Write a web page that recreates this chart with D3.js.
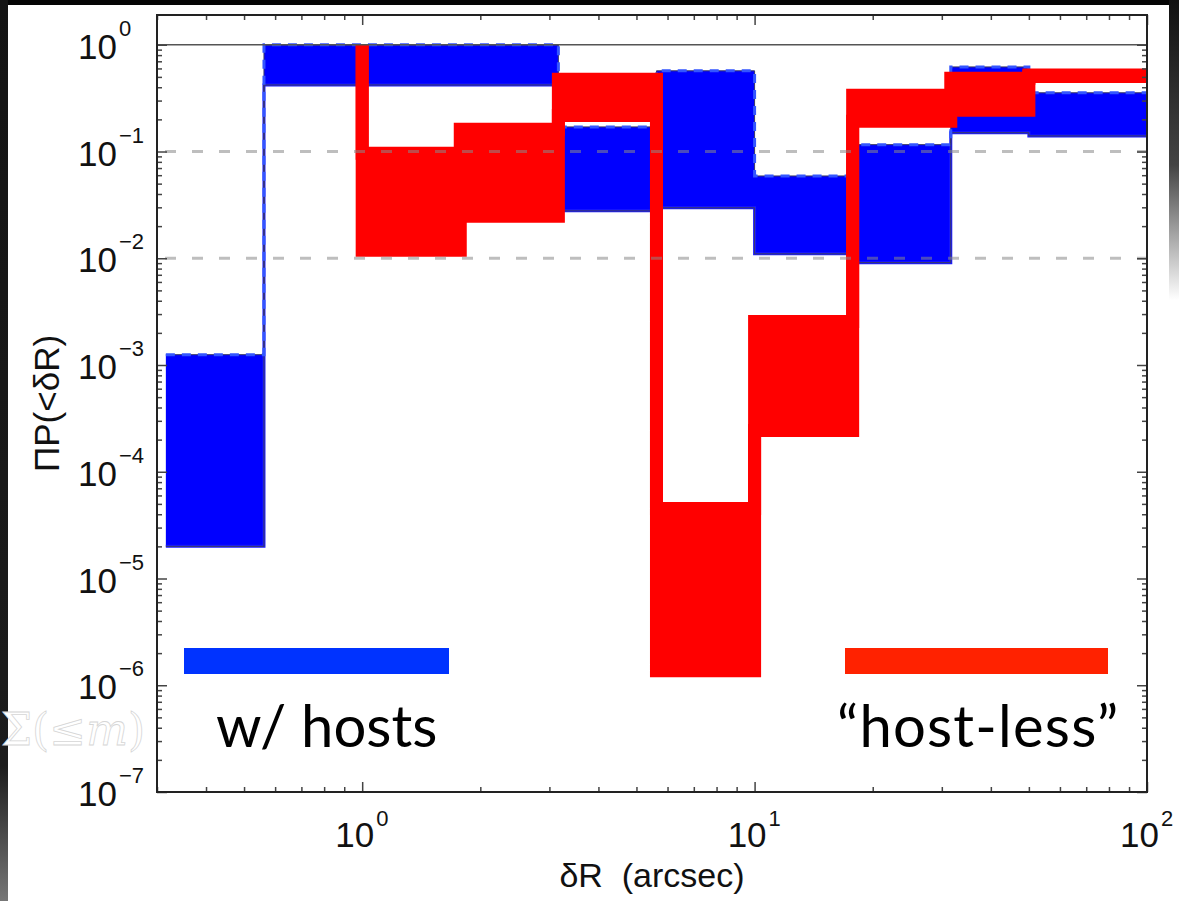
<!DOCTYPE html>
<html>
<head>
<meta charset="utf-8">
<script src="https://d3js.org/d3.v7.min.js"></script>
<style>
  body { margin: 0; background: #fff; }
  svg { display: block; }
</style>
</head>
<body>
<svg id="chart" width="1179" height="901"></svg>
<script>
// bin edges in arcsec, one more edge than values
const blueEdges = [0.316, 0.562, 3.162, 5.623, 10, 17.78, 31.62, 50, 100];
const blueHi = [1.25e-3, 1.0, 0.17, 0.57, 0.059, 0.116, 0.62, 0.355];
const blueLo = [2.0e-5, 0.42, 0.0278, 0.0297, 0.011, 0.0091, 0.15, 0.14];

const redEdges = [1.0, 1.778, 3.162, 5.623, 10, 17.78, 31.62, 50, 100];
const redHi = [0.0962, 0.1615, 0.475, 4.53e-5, 2.56e-3, 0.336, 0.485, 0.52];
const redLo = [0.01186, 0.0247, 0.218, 1.37e-6, 2.44e-4, 0.192, 0.243, 0.505];
const redStart = 1; // product starts at 1 before the first red bin

const refSolid = [1];
const refDashed = [0.1, 0.01];
const xMajor = [1, 10, 100];
const yMajorExp = [0, -1, -2, -3, -4, -5, -6, -7];

const svg = d3.select("#chart");
const W = 1179, H = 901;
const L = 157, R = 1147, T = 15, B = 792;

const x = d3.scaleLog().domain([0.3, 100]).range([L, R]);
const y = d3.scaleLog().domain([1e-7, 1.9]).range([B, T]);

// slide background bits round the figure
const defs = svg.append("defs");
const gl = defs.append("linearGradient").attr("id", "leftGrad").attr("x1", 0).attr("y1", 0).attr("x2", 0).attr("y2", 1);
gl.append("stop").attr("offset", "0%").attr("stop-color", "#141414");
gl.append("stop").attr("offset", "85%").attr("stop-color", "#1c1c1c");
gl.append("stop").attr("offset", "100%").attr("stop-color", "#777");
const gr = defs.append("linearGradient").attr("id", "rightGrad").attr("x1", 0).attr("y1", 0).attr("x2", 0).attr("y2", 1);
gr.append("stop").attr("offset", "0%").attr("stop-color", "#111");
gr.append("stop").attr("offset", "55%").attr("stop-color", "#444");
gr.append("stop").attr("offset", "100%").attr("stop-color", "#fff");
defs.append("clipPath").attr("id", "plotClip")
  .append("rect").attr("x", L).attr("y", T).attr("width", R - L).attr("height", B - T);

svg.append("rect").attr("width", W).attr("height", 5).attr("fill", "#050505");
svg.append("rect").attr("width", 8).attr("height", H).attr("fill", "url(#leftGrad)");
svg.append("rect").attr("x", 1169).attr("width", 10).attr("height", 300).attr("fill", "url(#rightGrad)");

// step points
function steps(edges, hi, lo) {
  return edges.map((e, i) => {
    const j = Math.min(i, hi.length - 1);
    return { x: e, hi: hi[j], lo: lo[j] };
  });
}
const bluePts = steps(blueEdges, blueHi, blueLo);
const redPts = [{ x: redEdges[0], hi: redStart, lo: redStart }].concat(steps(redEdges, redHi, redLo));

const area = d3.area()
  .x(d => x(d.x)).y0(d => y(d.lo)).y1(d => y(d.hi))
  .curve(d3.curveStepAfter);
const upper = d3.line().x(d => x(d.x)).y(d => y(d.hi)).curve(d3.curveStepAfter);
const lower = d3.line().x(d => x(d.x)).y(d => y(d.lo)).curve(d3.curveStepAfter);

const plot = svg.append("g").attr("clip-path", "url(#plotClip)");

// blue: w/ hosts
plot.append("path").attr("d", area(bluePts)).attr("fill", "#0000ff");
plot.append("path").attr("d", lower(bluePts))
  .attr("fill", "none").attr("stroke", "#1a1aff").attr("stroke-width", 3);
plot.append("path").attr("d", lower(bluePts))
  .attr("fill", "none").attr("stroke", "#3a3a66").attr("stroke-width", 1);
plot.append("path").attr("d", upper(bluePts))
  .attr("fill", "none").attr("stroke", "#3a3a66").attr("stroke-width", 1);
plot.append("path").attr("d", upper(bluePts))
  .attr("fill", "none").attr("stroke", "#3355ff").attr("stroke-width", 3)
  .attr("stroke-dasharray", "9,7");

// red: host-less
plot.append("path").attr("d", area(redPts)).attr("fill", "#ff0000");
[upper, lower].forEach(fn => {
  plot.append("path").attr("d", fn(redPts))
    .attr("fill", "none").attr("stroke", "#ff0000").attr("stroke-width", 13)
    .attr("stroke-linejoin", "miter").attr("stroke-linecap", "butt");
});

// reference levels
plot.selectAll(".refSolid").data(refSolid).join("line")
  .attr("x1", L).attr("x2", R).attr("y1", d => y(d)).attr("y2", d => y(d))
  .attr("stroke", "#555").attr("stroke-width", 1.6);
plot.selectAll(".refDash").data(refDashed).join("line")
  .attr("x1", L).attr("x2", R).attr("y1", d => y(d)).attr("y2", d => y(d))
  .attr("stroke", "#888").attr("stroke-opacity", 0.55).attr("stroke-width", 3.2)
  .attr("stroke-dasharray", "11,16").attr("stroke-dashoffset", -8);

// ticks, all pointing inward
const isMajor = v => Math.abs(Math.log10(v) - Math.round(Math.log10(v))) < 1e-9;
const xMinor = x.ticks().filter(v => !isMajor(v));
const yMinor = y.ticks().filter(v => !isMajor(v));
const yMajor = yMajorExp.map(k => Math.pow(10, k));

function tickAxis(axis, tx, ty) {
  svg.append("g").attr("transform", `translate(${tx},${ty})`)
    .call(axis.tickFormat(""))
    .call(g => g.select(".domain").remove())
    .call(g => g.selectAll("line").attr("stroke", "#444").attr("stroke-width", 1.5));
}
tickAxis(d3.axisBottom(x).tickValues(xMinor).tickSize(-5), 0, B);
tickAxis(d3.axisBottom(x).tickValues(xMajor).tickSize(-10), 0, B);
tickAxis(d3.axisTop(x).tickValues(xMinor).tickSize(-5), 0, T);
tickAxis(d3.axisTop(x).tickValues(xMajor).tickSize(-10), 0, T);
tickAxis(d3.axisLeft(y).tickValues(yMinor).tickSize(-5), L, 0);
tickAxis(d3.axisLeft(y).tickValues(yMajor).tickSize(-10), L, 0);
tickAxis(d3.axisRight(y).tickValues(yMinor).tickSize(-5), R, 0);
tickAxis(d3.axisRight(y).tickValues(yMajor).tickSize(-10), R, 0);

svg.append("rect").attr("x", L).attr("y", T).attr("width", R - L).attr("height", B - T)
  .attr("fill", "none").attr("stroke", "#222").attr("stroke-width", 2);

// tick labels 10^k
const tickFont = "'Liberation Sans', Arial, Helvetica, sans-serif";
const yl = svg.append("g").attr("font-family", tickFont).attr("fill", "#111");
yl.selectAll(".base").data(yMajorExp).join("text")
  .attr("x", 117).attr("y", k => y(Math.pow(10, k)) + 14)
  .attr("text-anchor", "end").attr("font-size", 35).text("10");
yl.selectAll(".sup").data(yMajorExp).join("text")
  .attr("x", 119).attr("y", k => y(Math.pow(10, k)) - 9)
  .attr("font-size", 22).text(k => k < 0 ? "\u2212" + (-k) : String(k));

const xl = svg.append("g").attr("font-family", tickFont).attr("fill", "#111");
xl.selectAll(".base").data(xMajor).join("text")
  .attr("x", d => x(d) + 12).attr("y", 847)
  .attr("text-anchor", "end").attr("font-size", 35).text("10");
xl.selectAll(".sup").data(xMajor).join("text")
  .attr("x", d => x(d) + 14).attr("y", 826)
  .attr("font-size", 22).text(d => String(Math.round(Math.log10(d))));

// axis titles
svg.append("text")
  .attr("x", (L + R) / 2).attr("y", 887).attr("text-anchor", "middle")
  .attr("font-family", tickFont).attr("font-size", 34).attr("fill", "#111")
  .attr("xml:space", "preserve")
  .text("\u03b4R  (arcsec)");
svg.append("text")
  .attr("transform", `translate(59,${(T + B) / 2}) rotate(-90)`)
  .attr("text-anchor", "middle")
  .attr("font-family", tickFont).attr("font-size", 35).attr("fill", "#111")
  .text("\u03a0P(<\u03b4R)");

// legend bars and labels
const legend = [
  { label: "w/ hosts", color: "#0033ff", x0: 184, x1: 449, tx: 216, ls: 0 },
  { label: "\u201chost-less\u201d", color: "#ff2200", x0: 845, x1: 1108, tx: 837, ls: 1.2 }
];
svg.selectAll(".legBar").data(legend).join("rect")
  .attr("x", d => d.x0).attr("y", 648).attr("width", d => d.x1 - d.x0).attr("height", 26)
  .attr("fill", d => d.color);
svg.selectAll(".legText").data(legend).join("text")
  .attr("x", d => d.tx).attr("y", 747)
  .attr("font-family", "Lato, 'Open Sans', sans-serif").attr("font-size", 58).attr("fill", "#000")
  .attr("letter-spacing", d => d.ls)
  .text(d => d.label);

// faint overlapping slide text
const ghost = svg.append("text").attr("x", 1).attr("y", 745)
  .attr("font-family", "'DejaVu Serif', serif").attr("font-size", 44)
  .attr("fill", "#fff").attr("stroke", "#d6d6d6").attr("stroke-width", 0.8);
ghost.append("tspan").text("\u03a3(\u2264");
ghost.append("tspan").attr("font-style", "italic").text("m");
ghost.append("tspan").text(")");
</script>
</body>
</html>
